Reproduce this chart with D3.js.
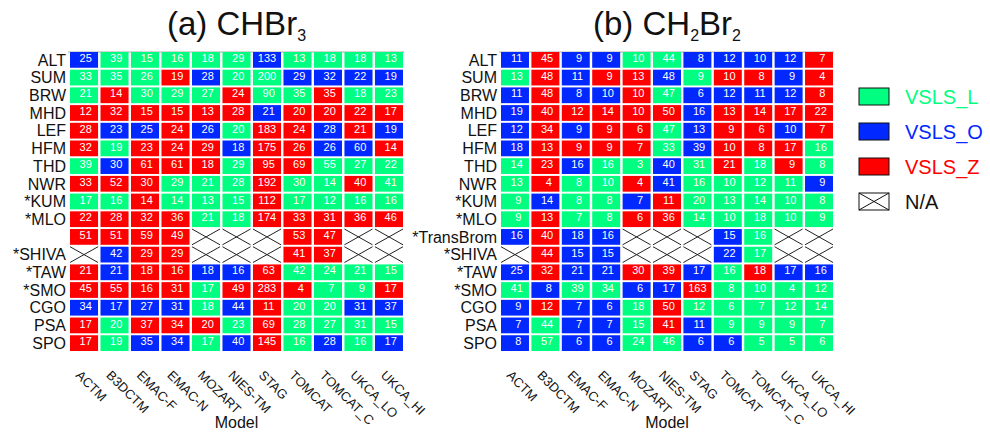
<!DOCTYPE html>
<html>
<head>
<meta charset="utf-8">
<script src="https://cdn.jsdelivr.net/npm/d3@7"></script>
<style>
  body { margin: 0; background: #fff; }
  svg { font-family: "Liberation Sans", Arial, sans-serif; }
</style>
</head>
<body>
<svg id="chart" width="990" height="433"></svg>
<script>
// sites (rows) and models (columns)
var sites = ["ALT","SUM","BRW","MHD","LEF","HFM","THD","NWR","*KUM","*MLO","*TransBrom","*SHIVA","*TAW","*SMO","CGO","PSA","SPO"];
var models = ["ACTM","B3DCTM","EMAC-F","EMAC-N","MOZART","NIES-TM","STAG","TOMCAT","TOMCAT_C","UKCA_LO","UKCA_HI"];

// (a) CHBr3 numbers, null = N/A
var chbr3Vals = [
  [25,39,15,16,18,29,133,13,18,18,13],
  [33,35,26,19,28,20,200,29,32,22,19],
  [21,14,30,29,27,24,90,35,35,18,23],
  [12,32,15,15,13,28,21,20,20,22,17],
  [28,23,25,24,26,20,183,24,28,21,19],
  [32,19,23,24,29,18,175,26,26,60,14],
  [39,30,61,61,18,29,95,69,55,27,22],
  [33,52,30,29,21,28,192,30,14,40,41],
  [17,16,14,14,13,15,112,17,12,16,16],
  [22,28,32,36,21,18,174,33,31,36,46],
  [51,51,59,49,null,null,null,53,47,null,null],
  [null,42,29,29,null,null,null,41,37,null,null],
  [21,21,18,16,18,16,63,42,24,21,15],
  [45,55,16,31,17,49,283,4,7,9,17],
  [34,17,27,31,18,44,11,20,20,31,37],
  [17,20,37,34,20,23,69,28,27,31,15],
  [17,19,35,34,17,40,145,16,28,16,17]
];
// best scenario per cell: L = VSLS_L, O = VSLS_O, Z = VSLS_Z, N = N/A
var chbr3Best = [
  "OLLLLLOLLLL",
  "LLLZOLLOOOO",
  "LZLLLZLLZLL",
  "ZZZZZZOZZZZ",
  "ZOOZOLZZOZO",
  "ZLZZZOZZOOZ",
  "LOZZZLZZLLL",
  "ZZZLLLZLLZL",
  "LLZLLLZLLLL",
  "ZZZZLLZZZZZ",
  "ZZZZNNNZZNN",
  "NOZZNNNZZNN",
  "ZOZZOOZLLLL",
  "ZZZZLZZZLLZ",
  "OOOOLOZLLOO",
  "ZLZZZLZLLLL",
  "ZLOOLOZLOLO"
];

// (b) CH2Br2
var ch2br2Vals = [
  [11,45,9,9,10,44,8,12,10,12,7],
  [13,48,11,9,13,48,9,10,8,9,4],
  [11,48,8,10,10,47,6,12,11,12,8],
  [19,40,12,14,10,50,16,13,14,17,22],
  [12,34,9,9,6,47,13,9,6,10,7],
  [18,13,9,9,7,33,39,10,8,17,16],
  [14,23,16,16,3,40,31,21,18,9,8],
  [13,4,8,10,4,41,16,10,12,11,9],
  [9,14,8,8,7,11,20,13,14,10,8],
  [9,13,7,8,6,36,14,10,18,10,9],
  [16,40,18,16,null,null,null,15,16,null,null],
  [null,44,15,15,null,null,null,22,17,null,null],
  [25,32,21,21,30,39,17,16,18,17,16],
  [41,8,39,34,6,17,163,8,10,4,12],
  [9,12,7,6,18,50,12,6,7,12,14],
  [7,44,7,7,15,41,11,9,9,9,7],
  [8,57,6,6,24,46,6,6,5,5,6]
];
var ch2br2Best = [
  "OZOOLLOOOOZ",
  "LZOZZOLZZOZ",
  "OZOOZLOOOOZ",
  "OZZZZZOZZZZ",
  "OZOZZLOZZOZ",
  "OZZZZLOZZZL",
  "LZOLLOLZLZL",
  "LZLLZOLLLLO",
  "LOLLOZLLLLL",
  "LZLLZZLLLLL",
  "OZOONNNOLNN",
  "NZOONNNOLNN",
  "OZOOZZOLZOO",
  "LOLLOOZLLLL",
  "OZOOLZLLLLL",
  "OLOOLZOLLLL",
  "OLOOLLOOLLL"
];

var legendKeys = ["L","O","Z","N"];
var legendNames = ["VSLS_L","VSLS_O","VSLS_Z","N/A"];

var color = d3.scaleOrdinal()
  .domain(["L","O","Z","N"])
  .range(["#00ff80","#0028ff","#ff0000","#ffffff"]);

var svg = d3.select("#chart");
svg.append("rect").attr("width", 990).attr("height", 433).attr("fill", "#fff");

// y scale shared by both panels
var yScale = d3.scaleBand()
  .domain(d3.range(sites.length))
  .range([52, 351])
  .paddingInner(0.11);

function drawPanel(x0, x1, vals, best, labels, title) {
  var xScale = d3.scaleBand()
    .domain(d3.range(models.length))
    .range([x0, x1])
    .paddingInner(0.08);
  var g = svg.append("g");
  var bw = xScale.bandwidth(), bh = yScale.bandwidth();

  // flatten cells
  var cells = [];
  vals.forEach(function(row, i) {
    row.forEach(function(v, j) {
      cells.push({r: i, c: j, v: v, k: best[i][j]});
    });
  });

  // top frame line
  g.append("line")
    .attr("x1", x0 - 2).attr("x2", x1 + 1)
    .attr("y1", 52).attr("y2", 52)
    .attr("stroke", "#aaa").attr("stroke-width", 1);

  var cell = g.selectAll("g.cell")
    .data(cells)
    .enter().append("g")
    .attr("class", "cell")
    .attr("transform", function(d) { return "translate(" + xScale(d.c) + "," + yScale(d.r) + ")"; });

  cell.append("rect")
    .attr("width", bw)
    .attr("height", bh)
    .attr("fill", function(d) { return color(d.k); });

  // N/A crosses
  var na = cell.filter(function(d) { return d.k === "N"; });
  na.append("line").attr("x1", 0).attr("y1", 0).attr("x2", bw).attr("y2", bh)
    .attr("stroke", "#222").attr("stroke-width", 1);
  na.append("line").attr("x1", 0).attr("y1", bh).attr("x2", bw).attr("y2", 0)
    .attr("stroke", "#222").attr("stroke-width", 1);

  cell.filter(function(d) { return d.v !== null; })
    .append("text")
    .attr("x", function(d) { return bw / 2 + (3 - String(d.v).length) * 1.7; })
    .attr("y", 10)
    .attr("text-anchor", "middle")
    .attr("fill", "#fff")
    .style("font-size", "11px")
    .text(function(d) { return d.v; });

  // row labels (skip empty ones)
  var rowData = labels.map(function(d, i) { return {s: d, i: i}; })
    .filter(function(d) { return d.s !== ""; });
  g.selectAll("text.row")
    .data(rowData)
    .enter().append("text")
    .attr("class", "row")
    .attr("x", x0 - 4)
    .attr("y", function(d) { return yScale(d.i) + bh / 2; })
    .attr("dy", "0.36em")
    .attr("text-anchor", "end")
    .style("font-size", "16px")
    .attr("fill", "#111")
    .text(function(d) { return d.s; });

  // model labels, rotated
  g.selectAll("text.col")
    .data(models)
    .enter().append("text")
    .attr("class", "col")
    .attr("transform", function(d, i) { return "translate(" + (xScale(i) + bw / 2 - 9) + ",376) rotate(45)"; })
    .style("font-size", "13px")
    .attr("fill", "#111")
    .text(function(d) { return d; });

  g.append("text")
    .attr("x", (x0 + x1) / 2)
    .attr("y", 428)
    .attr("text-anchor", "middle")
    .style("font-size", "16px")
    .attr("fill", "#111")
    .text("Model");

  // title with subscripts
  var t = g.append("text")
    .attr("x", (x0 + x1) / 2)
    .attr("y", 35)
    .attr("text-anchor", "middle")
    .style("font-size", "33px")
    .attr("fill", "#111");
  var shifted = false;
  title.forEach(function(part) {
    if (part.sub) {
      t.append("tspan").attr("dy", shifted ? 0 : 6).style("font-size", "16px").text(part.s);
      shifted = true;
    } else {
      t.append("tspan").attr("dy", shifted ? -6 : 0).text(part.s);
      shifted = false;
    }
  });
}

var labelsA = sites.map(function(s) { return s === "*TransBrom" ? "" : s; });
drawPanel(70, 403, chbr3Vals, chbr3Best, labelsA,
  [{s: "(a) CHBr"}, {s: "3", sub: true}]);
drawPanel(501, 833, ch2br2Vals, ch2br2Best, sites,
  [{s: "(b) CH"}, {s: "2", sub: true}, {s: "Br"}, {s: "2", sub: true}]);

// legend
var leg = svg.append("g").attr("transform", "translate(859,88)");
var item = leg.selectAll("g")
  .data(legendKeys)
  .enter().append("g")
  .attr("transform", function(d, i) { return "translate(0," + (i * 35) + ")"; });
item.append("rect")
  .attr("width", 30).attr("height", 17)
  .attr("fill", function(d) { return color(d); })
  .attr("stroke", "#111").attr("stroke-width", 1);
item.filter(function(d) { return d === "N"; })
  .each(function() {
    var s = d3.select(this);
    s.append("line").attr("x1", 0).attr("y1", 0).attr("x2", 30).attr("y2", 17).attr("stroke", "#111");
    s.append("line").attr("x1", 0).attr("y1", 17).attr("x2", 30).attr("y2", 0).attr("stroke", "#111");
  });
item.append("text")
  .attr("x", 46)
  .attr("y", 8.5)
  .attr("dy", "0.36em")
  .style("font-size", "20px")
  .attr("fill", function(d) { return d === "N" ? "#111" : color(d); })
  .text(function(d, i) { return legendNames[i]; });
</script>
</body>
</html>
